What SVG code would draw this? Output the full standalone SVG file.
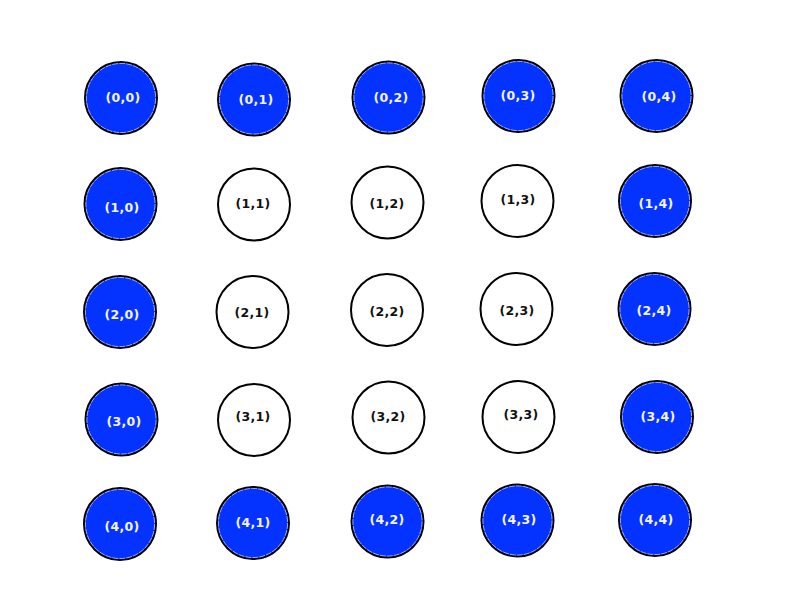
<svg xmlns="http://www.w3.org/2000/svg" width="800" height="600" viewBox="0 0 800 600">
<style>
circle{stroke:#000;stroke-width:2}
.b circle{fill:#0433ff}
.w circle{fill:#fff}
.b circle.ring{fill:none;stroke:#fff;stroke-width:0.6;stroke-dasharray:6 1}
text{font-family:"DejaVu Sans","Liberation Sans",sans-serif;font-size:12.5px;font-weight:bold;letter-spacing:0.3px;text-anchor:middle;dominant-baseline:central}
.b text{fill:#f4f4ff}
.w text{fill:#111}
</style>
<rect width="800" height="600" fill="#fff"/>
<g id="connectors"/>
<g id="n00" class="b"><circle cx="121" cy="98" r="36"/><circle class="ring" cx="121" cy="98" r="34.6"/><text x="123" y="97">(0,0)</text></g>
<g id="n01" class="b"><circle cx="254" cy="99.5" r="36"/><circle class="ring" cx="254" cy="99.5" r="34.6"/><text x="256" y="99">(0,1)</text></g>
<g id="n02" class="b"><circle cx="388.5" cy="97.5" r="36"/><circle class="ring" cx="388.5" cy="97.5" r="34.6"/><text x="391" y="97">(0,2)</text></g>
<g id="n03" class="b"><circle cx="518.5" cy="96" r="36"/><circle class="ring" cx="518.5" cy="96" r="34.6"/><text x="518" y="95">(0,3)</text></g>
<g id="n04" class="b"><circle cx="656.5" cy="96" r="36"/><circle class="ring" cx="656.5" cy="96" r="34.6"/><text x="659" y="96">(0,4)</text></g>
<g id="n10" class="b"><circle cx="120.5" cy="204" r="36"/><circle class="ring" cx="120.5" cy="204" r="34.6"/><text x="122" y="207">(1,0)</text></g>
<g id="n11" class="w"><circle cx="254" cy="204.5" r="36"/><text x="253" y="203">(1,1)</text></g>
<g id="n12" class="w"><circle cx="387.5" cy="202.5" r="36"/><text x="387" y="203">(1,2)</text></g>
<g id="n13" class="w"><circle cx="517.5" cy="201" r="36"/><text x="518" y="199">(1,3)</text></g>
<g id="n14" class="b"><circle cx="655" cy="201" r="36"/><circle class="ring" cx="655" cy="201" r="34.6"/><text x="656" y="203">(1,4)</text></g>
<g id="n20" class="b"><circle cx="120" cy="312" r="36"/><circle class="ring" cx="120" cy="312" r="34.6"/><text x="122" y="314">(2,0)</text></g>
<g id="n21" class="w"><circle cx="252.5" cy="312" r="36"/><text x="252" y="312">(2,1)</text></g>
<g id="n22" class="w"><circle cx="387" cy="310" r="36"/><text x="387" y="311">(2,2)</text></g>
<g id="n23" class="w"><circle cx="516.5" cy="309" r="36"/><text x="517" y="310">(2,3)</text></g>
<g id="n24" class="b"><circle cx="654.5" cy="309" r="36"/><circle class="ring" cx="654.5" cy="309" r="34.6"/><text x="654" y="310">(2,4)</text></g>
<g id="n30" class="b"><circle cx="121.5" cy="419.5" r="36"/><circle class="ring" cx="121.5" cy="419.5" r="34.6"/><text x="124" y="421">(3,0)</text></g>
<g id="n31" class="w"><circle cx="254" cy="420" r="36"/><text x="253" y="416">(3,1)</text></g>
<g id="n32" class="w"><circle cx="388.5" cy="417.5" r="36"/><text x="388" y="416">(3,2)</text></g>
<g id="n33" class="w"><circle cx="518.5" cy="417" r="36"/><text x="521" y="414">(3,3)</text></g>
<g id="n34" class="b"><circle cx="657" cy="417" r="36"/><circle class="ring" cx="657" cy="417" r="34.6"/><text x="658" y="416">(3,4)</text></g>
<g id="n40" class="b"><circle cx="120" cy="524" r="36"/><circle class="ring" cx="120" cy="524" r="34.6"/><text x="122" y="526">(4,0)</text></g>
<g id="n41" class="b"><circle cx="253" cy="523" r="36"/><circle class="ring" cx="253" cy="523" r="34.6"/><text x="253" y="522">(4,1)</text></g>
<g id="n42" class="b"><circle cx="387.5" cy="521.5" r="36"/><circle class="ring" cx="387.5" cy="521.5" r="34.6"/><text x="387" y="519">(4,2)</text></g>
<g id="n43" class="b"><circle cx="517.5" cy="520.5" r="36"/><circle class="ring" cx="517.5" cy="520.5" r="34.6"/><text x="519" y="519">(4,3)</text></g>
<g id="n44" class="b"><circle cx="655" cy="520" r="36"/><circle class="ring" cx="655" cy="520" r="34.6"/><text x="656" y="519">(4,4)</text></g>
</svg>
